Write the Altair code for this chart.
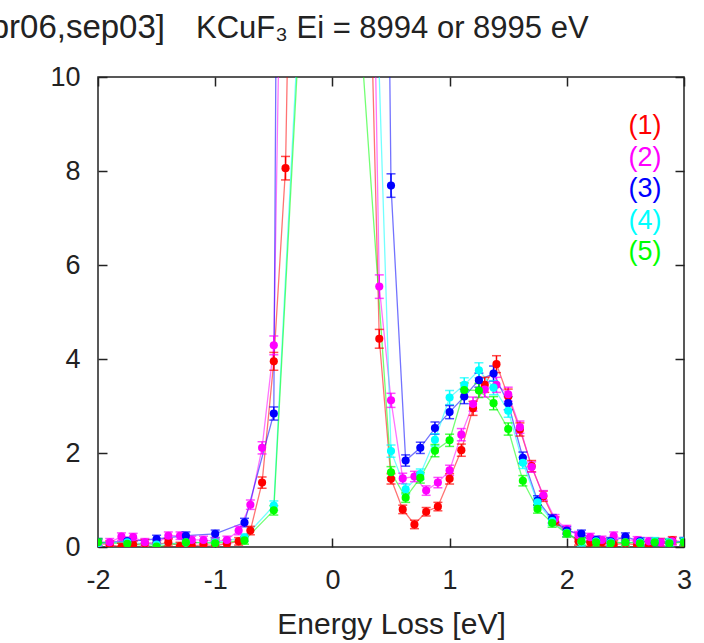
import altair as alt
import pandas as pd

series_names = ["(1)", "(2)", "(3)", "(4)", "(5)"]
series_colors = ["#ff0000", "#ff00ff", "#0000ff", "#00ffff", "#00ff00"]
title_left = "[apr06,sep03]"
title_right = "KCuF\u2083 Ei = 8994 or 8995 eV"

# energy grids (eV)
x_fine = [-2.0, -1.9, -1.8, -1.7, -1.6, -1.5, -1.4, -1.3, -1.2, -1.1, -1.0, -0.9,
          -0.8, -0.7, -0.6, -0.5, -0.4, -0.3, 0.0, 0.3, 0.4, 0.5, 0.6, 0.7, 0.8,
          0.9, 1.0, 1.1, 1.2, 1.3, 1.4, 1.5, 1.6, 1.7, 1.8, 1.9, 2.0, 2.1, 2.2,
          2.3, 2.4, 2.5, 2.6, 2.7, 2.8, 2.9, 3.0]
x_coarse = [-2.0, -1.75, -1.5, -1.25, -1.0, -0.75, -0.5, -0.25, 0.0, 0.25, 0.375,
            0.5, 0.625, 0.75, 0.875, 1.0, 1.125, 1.25, 1.375, 1.5, 1.625, 1.75,
            1.875, 2.0, 2.125, 2.25, 2.375, 2.5, 2.625, 2.75, 2.875, 3.0]
x_green = [-2.0, -1.75, -1.5, -1.25, -1.0, -0.75, -0.5, -0.25, 0.0, 0.25,
           0.5, 0.625, 0.75, 0.875, 1.0, 1.125, 1.25, 1.375, 1.5, 1.625, 1.75,
           1.875, 2.0, 2.125, 2.25, 2.375, 2.5, 2.625, 2.75, 2.875, 3.0]

y1 = [0.08, 0.05, 0.00, 0.05, 0.08, 0.05, 0.10, 0.02, 0.02, 0.05, 0.03, 0.07,
      0.12, 0.35, 1.37, 3.95, 8.06, 22.0, 400.0, 14.5, 4.43, 1.45, 0.80, 0.48,
      0.75, 0.86, 1.45, 2.06, 2.95, 3.45, 3.89, 3.20, 2.50, 1.72, 1.08, 0.55,
      0.30, 0.12, 0.10, 0.10, 0.05, 0.08, 0.04, 0.04, 0.10, 0.14, 0.10]
e1 = [0.08, 0.08, 0.08, 0.08, 0.08, 0.08, 0.08, 0.08, 0.08, 0.08, 0.08, 0.08,
      0.08, 0.09, 0.12, 0.19, 0.25, 0.4, 1.0, 0.35, 0.2, 0.11, 0.09, 0.09,
      0.09, 0.09, 0.11, 0.13, 0.15, 0.16, 0.18, 0.16, 0.14, 0.12, 0.11, 0.09,
      0.08, 0.08, 0.08, 0.08, 0.08, 0.08, 0.08, 0.08, 0.08, 0.08, 0.08]

y2 = [0.05, 0.10, 0.22, 0.21, 0.10, 0.08, 0.24, 0.24, 0.15, 0.15, 0.12, 0.15,
      0.35, 0.90, 2.11, 4.29, 19.0, 60.0, 400.0, 20.4, 5.54, 3.12, 1.46, 1.50,
      1.20, 1.37, 1.63, 2.39, 3.04, 3.35, 3.45, 3.25, 2.55, 1.70, 1.10, 0.60,
      0.38, 0.25, 0.21, 0.15, 0.24, 0.15, 0.14, 0.12, 0.10, 0.12, 0.12]
e2 = [0.08, 0.08, 0.08, 0.08, 0.08, 0.08, 0.08, 0.08, 0.08, 0.08, 0.08, 0.08,
      0.09, 0.10, 0.13, 0.20, 0.4, 0.6, 1.0, 0.4, 0.25, 0.15, 0.11, 0.11,
      0.10, 0.11, 0.11, 0.13, 0.15, 0.16, 0.16, 0.15, 0.13, 0.11, 0.10, 0.09,
      0.08, 0.08, 0.08, 0.08, 0.08, 0.08, 0.08, 0.08, 0.08, 0.08, 0.08]

y3 = [0.10, 0.12, 0.17, 0.24, 0.28, 0.52, 2.84, 108.0, 400.0, 120.0, 36.6,
      7.69, 1.84, 2.11, 2.53, 2.87, 3.20, 3.55, 3.69, 3.06, 1.90, 0.99, 0.60,
      0.35, 0.28, 0.15, 0.12, 0.22, 0.12, 0.10, 0.08, 0.12]
e3 = [0.08, 0.08, 0.08, 0.08, 0.08, 0.09, 0.14, 1.0, 1.0, 1.0, 0.5,
      0.25, 0.12, 0.12, 0.13, 0.14, 0.15, 0.15, 0.16, 0.14, 0.12, 0.10, 0.09,
      0.08, 0.08, 0.08, 0.08, 0.08, 0.08, 0.08, 0.08, 0.08]

y4 = [0.08, 0.10, 0.05, 0.10, 0.10, 0.20, 0.88, 13.0, 400.0, 60.0, 12.0,
      2.04, 1.23, 1.55, 2.28, 3.18, 3.45, 3.76, 3.39, 2.90, 1.79, 0.95, 0.55,
      0.30, 0.10, 0.12, 0.10, 0.10, 0.10, 0.12, 0.10, 0.12]
e4 = [0.08, 0.08, 0.08, 0.08, 0.08, 0.08, 0.10, 0.3, 1.0, 0.8, 0.3,
      0.13, 0.11, 0.11, 0.13, 0.15, 0.15, 0.16, 0.15, 0.14, 0.12, 0.10, 0.09,
      0.08, 0.08, 0.08, 0.08, 0.08, 0.08, 0.08, 0.08, 0.08]

y5 = [0.10, 0.07, 0.01, 0.10, 0.08, 0.14, 0.78, 12.5, 400.0, 10.6,
      1.59, 1.05, 1.47, 2.05, 2.27, 3.34, 3.33, 3.06, 2.51, 1.41, 0.81,
      0.51, 0.29, 0.12, 0.10, 0.08, 0.10, 0.08, 0.10, 0.08, 0.10]
e5 = [0.08, 0.08, 0.08, 0.08, 0.08, 0.08, 0.10, 0.3, 1.0, 0.3,
      0.12, 0.10, 0.11, 0.13, 0.13, 0.15, 0.15, 0.14, 0.13, 0.11, 0.09,
      0.09, 0.08, 0.08, 0.08, 0.08, 0.08, 0.08, 0.08, 0.08, 0.08]

x_ticks = [-2, -1, 0, 1, 2, 3]
y_ticks = [0, 2, 4, 6, 8, 10]

frames = []
for name, xs, ys, es in zip(series_names,
                            [x_fine, x_fine, x_coarse, x_coarse, x_green],
                            [y1, y2, y3, y4, y5],
                            [e1, e2, e3, e4, e5]):
    frames.append(pd.DataFrame({"series": name, "x": xs, "y": ys, "err": es}))
df = pd.concat(frames, ignore_index=True)
df["lo"] = df["y"] - df["err"]
df["hi"] = df["y"] + df["err"]

FONT = "Liberation Sans"
INK = "#222222"

xsc = alt.Scale(domain=[-2, 3], nice=False, zero=False)
ysc = alt.Scale(domain=[0, 10], nice=False, zero=False)
color = alt.Color("series:N", scale=alt.Scale(domain=series_names, range=series_colors), legend=None)


def tick_axis(orient, values):
    return alt.Axis(orient=orient, offset=-9, values=values, tickSize=9, tickWidth=1.5,
                    tickColor=INK, labels=False, domain=False, grid=False, title=None)


ax_bottom = alt.Axis(orient="bottom", values=x_ticks, ticks=False, domain=False, grid=False,
                     labelFont=FONT, labelFontSize=27, labelColor=INK, labelPadding=20,
                     labelFlush=False, labelOverlap=False, labelExpr="'' + datum.value",
                     title="Energy Loss [eV]", titleFont=FONT, titleFontSize=30,
                     titleFontWeight="normal", titleColor=INK, titlePadding=16)
ax_left = alt.Axis(orient="left", values=y_ticks, ticks=False, domain=False, grid=False,
                   labelFont=FONT, labelFontSize=27, labelColor=INK, labelPadding=18,
                   labelOverlap=False, labelFlush=False, title=None)

lines = alt.Chart(df).mark_line(clip=True, strokeWidth=1.3, opacity=0.55).encode(
    x=alt.X("x:Q", scale=xsc, axis=ax_bottom),
    y=alt.Y("y:Q", scale=ysc, axis=ax_left),
    color=color,
)
bars = alt.Chart(df).mark_rule(clip=True, strokeWidth=1.5).encode(
    x=alt.X("x:Q", scale=xsc, axis=tick_axis("top", x_ticks)),
    y=alt.Y("lo:Q", scale=ysc, axis=tick_axis("right", y_ticks)),
    y2="hi:Q",
    color=color,
)
caps_lo = alt.Chart(df).mark_tick(clip=True, orient="horizontal", size=9, thickness=1.5).encode(
    x=alt.X("x:Q", scale=xsc, axis=tick_axis("bottom", x_ticks)),
    y=alt.Y("lo:Q", scale=ysc, axis=tick_axis("left", y_ticks)),
    color=color,
)
caps_hi = alt.Chart(df).mark_tick(clip=True, orient="horizontal", size=9, thickness=1.5).encode(
    x=alt.X("x:Q", scale=xsc, axis=None),
    y=alt.Y("hi:Q", scale=ysc, axis=None),
    color=color,
)
points = alt.Chart(df).mark_circle(clip=True, size=66, opacity=1).encode(
    x=alt.X("x:Q", scale=xsc, axis=None),
    y=alt.Y("y:Q", scale=ysc, axis=None),
    color=color,
)

data_layer = alt.layer(lines, bars, caps_lo, caps_hi, points).resolve_axis(x="independent", y="independent")

leg_df = pd.DataFrame({"series": series_names})
legend = alt.Chart(leg_df).mark_text(font=FONT, fontSize=27, align="center", baseline="middle").encode(
    x=alt.value(547),
    y=alt.Y("series:N", scale=alt.Scale(type="point", domain=series_names, range=[49, 175], padding=0), axis=None),
    text="series:N",
    color=color,
)

tl_df = pd.DataFrame({"t": [title_left]})
title_l = alt.Chart(tl_df).mark_text(font=FONT, fontSize=33, align="right", baseline="alphabetic",
                                     color=INK).encode(
    x=alt.value(67),
    y=alt.value(-39),
    text="t:N",
)
tr_df = pd.DataFrame({"t": [title_right]})
title_r = alt.Chart(tr_df).mark_text(font=FONT, fontSize=31, align="left", baseline="alphabetic",
                                     color=INK).encode(
    x=alt.value(98),
    y=alt.value(-39),
    text="t:N",
)

chart = alt.layer(data_layer, legend, title_l, title_r).resolve_scale(y="independent").properties(
    width=586,
    height=470,
    padding={"left": 98, "top": 77, "right": 20, "bottom": 96},
    autosize=alt.AutoSizeParams(type="none"),
).configure_view(stroke=INK, strokeWidth=1.5)

chart.save("out.html", embed_options={"renderer": "svg", "actions": False})
